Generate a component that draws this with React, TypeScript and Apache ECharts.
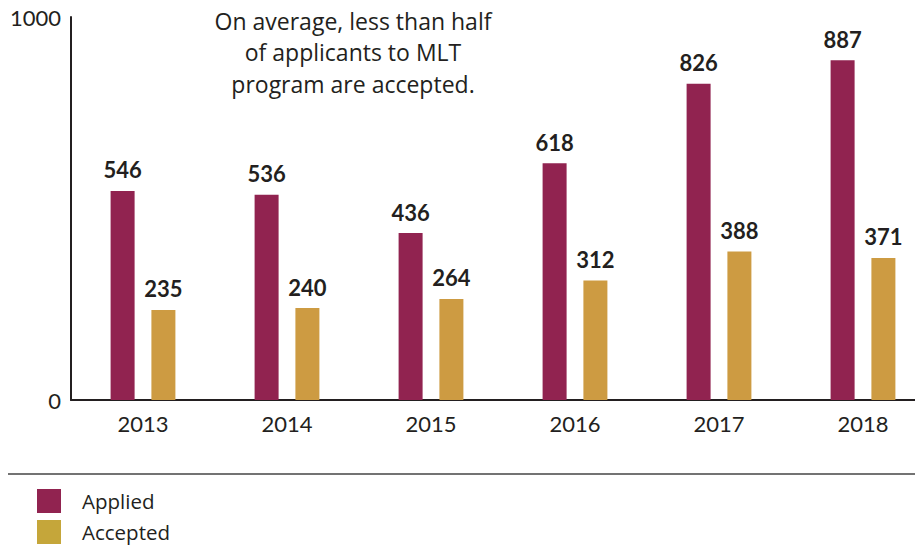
import React, { useEffect, useRef } from "react";
import * as echarts from "echarts";

const years = ["2013", "2014", "2015", "2016", "2017", "2018"];
const applied = [546, 536, 436, 618, 826, 887];
const accepted = [235, 240, 264, 312, 388, 371];
const yTicks = [0, 1000];
const note = "On average, less than half\nof applicants to MLT\nprogram are accepted.";

const FONT = "Lato, 'Open Sans', sans-serif";
const FONT2 = "'Open Sans', Lato, sans-serif";

export default function App() {
  const ref = useRef<HTMLDivElement>(null);
  useEffect(() => {
    if (!ref.current) return;
    const chart = echarts.init(ref.current, null, { renderer: "svg" });
    chart.setOption({
      animation: false,
      textStyle: { fontFamily: FONT },
      grid: {
        left: 71,
        width: 864,
        top: 17,
        height: 383,
        containLabel: false,
        outerBoundsMode: "none",
      },
      legend: {
        orient: "vertical",
        left: 37,
        top: 489,
        padding: 0,
        itemWidth: 24,
        itemHeight: 24,
        itemGap: 7,
        icon: "rect",
        textStyle: {
          fontSize: 20.5,
          lineHeight: 21,
          color: "#231f20",
          fontFamily: FONT2,
          padding: [0, 0, 0, 16],
        },
        data: [
          { name: "Applied", itemStyle: { color: "#912350" } },
          { name: "Accepted", itemStyle: { color: "#c5a63a" } },
        ],
      },
      xAxis: {
        type: "category",
        data: years,
        axisLine: { lineStyle: { color: "#231f20", width: 2 } },
        axisTick: { show: false },
        axisLabel: { fontSize: 22, color: "#231f20", margin: 12, fontFamily: FONT },
      },
      yAxis: {
        type: "value",
        min: yTicks[0],
        max: yTicks[yTicks.length - 1],
        interval: 1000,
        axisLine: { show: true, lineStyle: { color: "#231f20", width: 2 } },
        axisTick: { show: false },
        splitLine: { show: false },
        axisLabel: {
          fontSize: 22,
          color: "#231f20",
          margin: 10,
          fontFamily: FONT,
          formatter: (v: number) => String(v),
        },
      },
      graphic: [
        {
          type: "text",
          x: 353,
          y: 5,
          style: {
            text: note,
            fontSize: 23,
            lineHeight: 31.5,
            fill: "#231f20",
            fontFamily: FONT2,
            align: "center",
            verticalAlign: "top",
          },
        },
        {
          type: "line",
          shape: { x1: 8, y1: 474, x2: 915, y2: 474 },
          style: { stroke: "#444", lineWidth: 1.5 },
        },
      ],
      series: [
        {
          name: "Applied",
          type: "bar",
          data: applied,
          barWidth: 24,
          barGap: "70%",
          itemStyle: { color: "#912350" },
          label: {
            show: true,
            position: "top",
            distance: 10,
            fontSize: 22,
            fontWeight: "bold",
            color: "#231f20",
            fontFamily: FONT,
          },
        },
        {
          name: "Accepted",
          type: "bar",
          data: accepted,
          barWidth: 24,
          barGap: "70%",
          itemStyle: { color: "#cd9b42" },
          label: {
            show: true,
            position: "top",
            distance: 10,
            fontSize: 22,
            fontWeight: "bold",
            color: "#231f20",
            fontFamily: FONT,
          },
        },
      ],
    });
    return () => chart.dispose();
  }, []);
  return (
    <div
      ref={ref}
      style={{ position: "absolute", left: 0, top: 0, width: 915, height: 546 }}
    />
  );
}
